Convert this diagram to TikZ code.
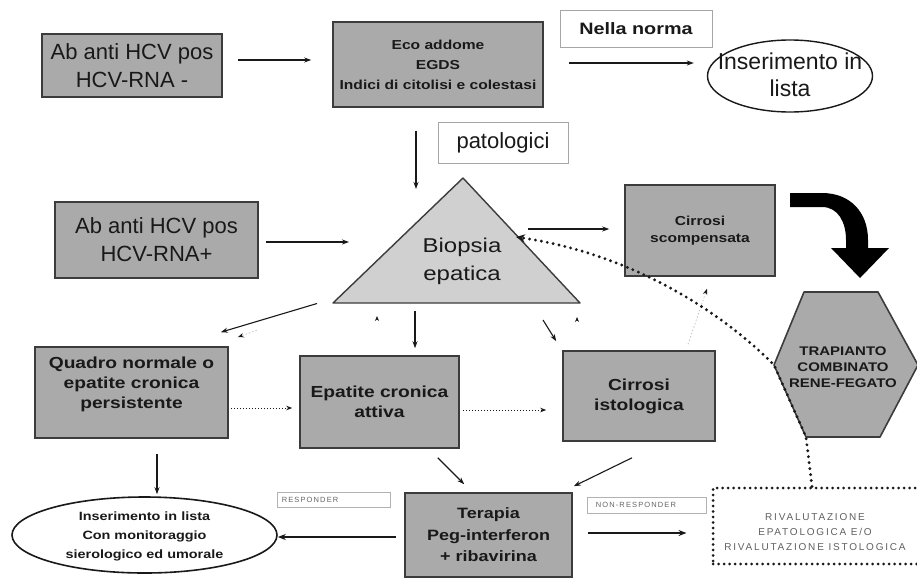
\documentclass[tikz,border=0pt]{standalone}
\usepackage{fontspec}
\setmainfont{Liberation Sans}
\newfontfamily\wide[FakeStretch=1.2]{Liberation Sans}
\newfontfamily\spaced[LetterSpace=18]{Liberation Sans}
\newfontfamily\spacedsm[LetterSpace=15]{Liberation Sans}
\usetikzlibrary{arrows.meta,shapes.geometric}
\definecolor{boxgray}{RGB}{170,170,170}
\definecolor{trigray}{RGB}{208,208,208}
\definecolor{bord}{RGB}{60,60,60}
\definecolor{ink}{RGB}{25,25,25}
\tikzset{
  gbox/.style={draw=bord, line width=1.6pt, fill=boxgray, align=center, inner sep=0pt, text=ink},
  wbox/.style={draw=gray!70, line width=0.9pt, fill=white, align=center, inner sep=0pt, text=ink},
  bt/.style={align=center, text=ink, inner sep=0pt},
  arr/.style={draw=ink, line width=1.1pt, -{Stealth[length=7pt,width=5pt]}},
  thickarr/.style={draw=ink, line width=2pt, -{Stealth[length=8pt,width=6pt]}},
  dotarr/.style={draw=ink, line width=0.9pt, dash pattern=on 1.5pt off 1.5pt, -{Stealth[length=6pt,width=4.5pt]}},
  faintarr/.style={draw=gray!45, line width=0.8pt, dash pattern=on 1.5pt off 2pt, -{Stealth[length=6pt,width=4.5pt,color=ink,fill=ink]}},
  bigdot/.style={draw=ink, line width=3.2pt, line cap=round, dash pattern=on 0pt off 6pt, -{Stealth[length=9pt,width=8pt]}},
  tinyhead/.style={draw=ink, line width=0.8pt, -{Stealth[length=5pt,width=4pt]}},
}
\begin{document}
\begin{tikzpicture}[x=1pt,y=-1pt]
\useasboundingbox[fill=white] (0,0) rectangle (917,581);

% top row
\node[gbox, minimum width=180, minimum height=63, font=\fontsize{22}{28}\selectfont] (b1) at (132,65.5) {Ab anti HCV pos\\HCV-RNA -};
\node[gbox, minimum width=210, minimum height=85, font=\wide\bfseries\fontsize{13}{20}\selectfont] (b2) at (438,64.5) {Eco addome\\EGDS\\Indici di citolisi e colestasi};
\node[wbox, minimum width=152, minimum height=37, font=\wide\bfseries\fontsize{16.5}{20}\selectfont] (norma) at (636,28.5) {Nella norma};
\node[ellipse, draw=ink, line width=1.4pt, fill=white, minimum width=165, minimum height=72, inner sep=0pt] (e1) at (790,76) {};
\node[bt, font=\fontsize{23}{27}\selectfont] (e1t) at (790,75) {Inserimento in\\lista};
\node[wbox, minimum width=130, minimum height=41, font=\fontsize{22}{26}\selectfont] (pat) at (503,143) {patologici};

% middle row
\node[gbox, minimum width=203, minimum height=76, font=\fontsize{22}{28}\selectfont] (b3) at (156.5,240) {Ab anti HCV pos\\HCV-RNA+};
\fill[trigray] (333,303) -- (580,303) -- (463,178) -- cycle;
\draw[bord, line width=1.4pt, line join=round] (333,303) -- (580,303) -- (463,178) -- cycle;
\node[bt, font=\wide\fontsize{20}{28}\selectfont] (bio) at (462,261) {Biopsia\\epatica};
\coordinate (tT) at (416,189);
\coordinate (tL) at (349,242);
\coordinate (tR) at (528,229);
\coordinate (tQ) at (317,303.5);
\coordinate (tB) at (415,311);
\coordinate (tC) at (543,320);
\coordinate (tD) at (516,237);
\coordinate (tK1) at (377,320);
\coordinate (tK2) at (577,321);

\node[gbox, minimum width=150, minimum height=91, font=\wide\bfseries\fontsize{13}{17}\selectfont] (cs) at (700,230.5) {Cirrosi\\scompensata};

% big black arrow
\fill[black] (790,193) -- (822,193) .. controls (850,193) and (868,212) .. (868,240) -- (868,248) -- (889,248) -- (860,278) -- (831,248) -- (846,248) -- (846,240) .. controls (846,222) and (838,207) .. (822,207) -- (790,207) -- cycle;

% hexagon
\coordinate (hTL) at (804,292);
\coordinate (hTR) at (878,292);
\coordinate (hR) at (918,365);
\coordinate (hBR) at (880,437);
\coordinate (hBL) at (806,437);
\coordinate (hL) at (774,365);
\filldraw[fill=boxgray, draw=bord, line width=1.6pt, line join=round] (hTL) -- (hTR) -- (hR) -- (hBR) -- (hBL) -- (hL) -- cycle;
\node[bt, font=\wide\bfseries\fontsize{12.5}{16}\selectfont] (hex) at (843,367) {TRAPIANTO\\COMBINATO\\RENE-FEGATO};

% lower row
\node[gbox, minimum width=193, minimum height=91] (q) at (131.5,392.5) {};
\node[bt, font=\wide\bfseries\fontsize{16}{20}\selectfont] (qt) at (131.5,384) {Quadro normale o\\epatite cronica\\persistente};
\node[gbox, minimum width=159, minimum height=92, font=\wide\bfseries\fontsize{16}{20}\selectfont] (ep) at (379.5,402) {Epatite cronica\\attiva};
\node[gbox, minimum width=152, minimum height=90, font=\wide\bfseries\fontsize{16}{20}\selectfont] (ci) at (639,396) {Cirrosi\\istologica};

% bottom row
\node[gbox, minimum width=167, minimum height=84, font=\wide\bfseries\fontsize{15}{21.5}\selectfont] (ter) at (488.5,535) {Terapia\\Peg-interferon\\+ ribavirina};
\node[ellipse, draw=ink, line width=1.6pt, fill=white, minimum width=265, minimum height=76, inner sep=0pt] (e2) at (144.5,535) {};
\node[bt, font=\wide\bfseries\fontsize{12}{19}\selectfont] (e2t) at (144.5,536) {Inserimento in lista\\Con monitoraggio\\sierologico ed umorale};
\node[wbox, draw=gray!60, line width=0.8pt, minimum width=113, minimum height=15] (resp) at (333.5,499.5) {};
\node[bt, anchor=west, text=gray!80!black, font=\spacedsm\fontsize{7.5}{8}\selectfont] (respt) at ([xshift=5pt]resp.west) {RESPONDER};
\node[wbox, draw=gray!60, line width=0.8pt, minimum width=119, minimum height=16] (nonresp) at (646.5,505) {};
\node[bt, anchor=west, text=gray!80!black, font=\spacedsm\fontsize{7.5}{8}\selectfont] (nonrespt) at ([xshift=9pt]nonresp.west) {NON-RESPONDER};
\node[draw=ink, line width=3pt, line cap=round, dash pattern=on 0pt off 5.5pt, minimum width=206, minimum height=76, inner sep=0pt] (rv) at (816,526) {};
\node[bt, text=gray!75!black, font=\spaced\fontsize{10}{15}\selectfont] (rvt) at (815,532) {RIVALUTAZIONE\\EPATOLOGICA E/O\\RIVALUTAZIONE ISTOLOGICA};

% connectors
\draw[arr, shorten <=15pt, shorten >=21pt] ([yshift=5.5pt]b1.east) -- ([yshift=5.5pt]b1.east -| b2.west);
\draw[arr, shorten <=25pt, shorten >=13pt] ([yshift=1.5pt]b2.east) -- ([yshift=1.5pt]b2.east -| e1.west);
\draw[arr, shorten <=23pt] ([xshift=-22pt]b2.south) -- (tT);
\draw[arr, shorten <=7pt] ([yshift=-2pt]b3.east) -- (tL);
\draw[arr, shorten >=15pt] (tR) -- (tR -| cs.west);
\draw[arr] (tQ) -- ([shift={(-8pt,14pt)}]q.north east);
\draw[arr, shorten >=7pt] (tB) -- (tB |- ep.north);
\draw[arr] (tC) -- ([shift={(-6pt,9pt)}]ci.north west);
\draw[tinyhead] (tK1) -- ++(0,-4);
\draw[tinyhead] (tK2) -- ++(0,-4);
\draw[faintarr] ([shift={(49pt,6pt)}]ci.north) -- ([shift={(7pt,-12pt)}]cs.south);
\draw[faintarr] ([shift={(28pt,16pt)}]q.north east) -- ([shift={(9pt,9pt)}]q.north east);
\draw[dotarr, shorten <=2pt, shorten >=7pt] ([yshift=-15.5pt]q.east) -- ([yshift=-15.5pt]q.east -| ep.west);
\draw[dotarr, shorten <=3pt, shorten >=16pt] ([yshift=-8pt]ep.east) -- ([yshift=-8pt]ep.east -| ci.west);
\draw[arr, shorten <=15pt, shorten >=2pt] ([xshift=25.5pt]q.south) -- ([xshift=25.5pt]q.south |- e2.north);
\draw[arr] ([shift={(-22pt,-9pt)}]ep.south east) -- ([shift={(60pt,8pt)}]ter.north west);
\draw[arr] ([shift={(-7pt,-16pt)}]ci.south) -- ([shift={(1pt,6pt)}]ter.north east);
\draw[thickarr, shorten <=8pt] ([yshift=-2pt]ter.west) -- ([yshift=-2pt]ter.west -| e2.east);
\draw[thickarr, line width=1.6pt, shorten <=15pt, shorten >=25pt] ([yshift=2pt]ter.east) -- ([yshift=2pt]ter.east -| rv.west);
\draw[bigdot] ([xshift=-4pt]rv.north) -- (hBL) -- (hL) .. controls (730,320) and (640,255) .. (tD);
\end{tikzpicture}
\end{document}
